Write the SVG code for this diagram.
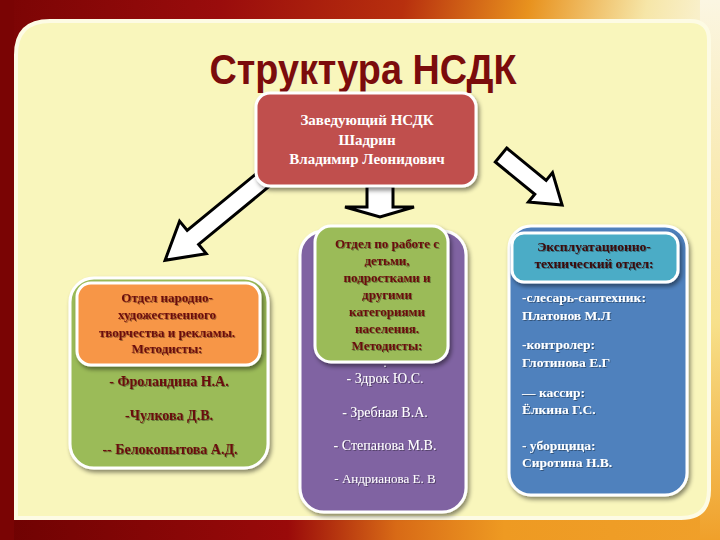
<svg xmlns="http://www.w3.org/2000/svg" width="720" height="540" viewBox="0 0 720 540">
<defs>
<linearGradient id="bgTop" x1="0" y1="0" x2="1" y2="0.15">
<stop offset="0" stop-color="#7a0404"/>
<stop offset="0.3" stop-color="#9a0c0c"/>
<stop offset="0.55" stop-color="#b8300e"/>
<stop offset="0.72" stop-color="#e8921e"/>
<stop offset="0.88" stop-color="#f6e6a8"/>
<stop offset="1" stop-color="#fbf6e0"/>
</linearGradient>
<linearGradient id="bgBot" x1="0" y1="0" x2="1" y2="0">
<stop offset="0" stop-color="#6e0202"/>
<stop offset="0.4" stop-color="#9a0a0a"/>
<stop offset="0.55" stop-color="#d86a16"/>
<stop offset="0.7" stop-color="#ee9a22"/>
<stop offset="1" stop-color="#f0a02a"/>
</linearGradient>
<linearGradient id="bgRight" x1="0" y1="0" x2="0" y2="1">
<stop offset="0" stop-color="#fbf6e2"/>
<stop offset="0.6" stop-color="#f7e08a"/>
<stop offset="1" stop-color="#f0a02a"/>
</linearGradient>
<filter id="sh" x="-10%" y="-10%" width="125%" height="125%">
<feDropShadow dx="2" dy="3" stdDeviation="2" flood-color="#000" flood-opacity="0.45"/>
</filter>
<filter id="tsh" x="-5%" y="-20%" width="110%" height="150%">
<feDropShadow dx="1" dy="1" stdDeviation="0.6" flood-color="#000" flood-opacity="0.35"/>
</filter>
</defs>
<style>
.box{stroke:#ffffff;stroke-width:3;filter:url(#sh)}
.sf{font-family:"Liberation Serif","Times New Roman",serif}
.b{font-weight:bold}
.c{text-anchor:middle}
.wht{fill:#ffffff}
.mar{fill:#6a0c0c}
.arr{fill:#ffffff;stroke:#000000;stroke-width:3;stroke-linejoin:miter}
</style>
<rect x="0" y="0" width="720" height="540" fill="url(#bgTop)"/>
<rect x="0" y="470" width="720" height="70" fill="url(#bgBot)"/>
<rect x="0" y="0" width="14" height="540" fill="#7a0404"/>
<rect x="700" y="0" width="20" height="540" fill="url(#bgRight)"/>
<path d="M50,21 L690,21 Q709,21 709,40 L709,490 Q709,518 681,518 L16,518 L16,55 Q16,21 50,21 Z" fill="#f9f6bc" stroke="#fdfbe4" stroke-width="4"/>
<text x="363" y="84" font-family="'Liberation Sans',Arial,sans-serif" font-weight="bold" font-size="42" fill="#7b0c0c" text-anchor="middle" textLength="307" lengthAdjust="spacingAndGlyphs">Структура НСДК</text>
<g id="connectors">
<polygon class="arr" transform="translate(264,179) rotate(140.6)" points="0,-9 92,-9 92,-21 128,0 92,21 92,9 0,9"/>
<polygon class="arr" transform="translate(501,155) rotate(39.3)" points="0,-9 51,-9 51,-19 79,0 51,19 51,9 0,9"/>
<polygon class="arr" points="367,186 393,186 393,207 414,207 380,217 345,207 367,207"/>
</g>
<g id="top">
<rect class="box" x="256" y="93" width="220" height="93" rx="14" fill="#c0504d"/>
<g class="sf b c wht" font-size="15">
<text x="367" y="125">Заведующий НСДК</text>
<text x="367" y="145">Шадрин</text>
<text x="367" y="164">Владимир Леонидович</text>
</g>
</g>
<g id="left">
<rect class="box" x="70" y="278" width="198" height="190" rx="24" fill="#9bbb59"/>
<rect class="box" x="77" y="283" width="183" height="82" rx="14" fill="#f79646"/>
<g class="sf b c mar" font-size="13" filter="url(#tsh)">
<text x="167" y="302">Отдел народно-</text>
<text x="167" y="319">художественного</text>
<text x="167" y="337">творчества и рекламы.</text>
<text x="167" y="353">Методисты:</text>
</g>
<g class="sf b c mar" font-size="14" filter="url(#tsh)">
<text x="169" y="386">- Фроландина Н.А.</text>
<text x="169" y="420">-Чулкова Д.В.</text>
<text x="170" y="454">-- Белокопытова А.Д.</text>
</g>
</g>
<g id="middle">
<rect class="box" x="300" y="231" width="166" height="281" rx="24" fill="#8064a2"/>
<rect class="box" x="315" y="226" width="133" height="136" rx="16" fill="#9bbb59"/>
<g class="sf b c mar" font-size="13" filter="url(#tsh)">
<text x="387" y="248">Отдел по работе с</text>
<text x="387" y="265">детьми,</text>
<text x="387" y="282">подростками и</text>
<text x="387" y="299">другими</text>
<text x="387" y="316">категориями</text>
<text x="387" y="333">населения.</text>
<text x="387" y="350">Методисты:</text>
</g>
<g class="sf c wht" font-size="14" filter="url(#tsh)">
<text x="385" y="367" font-size="12">.</text>
<text x="385" y="383">- Здрок Ю.С.</text>
<text x="385" y="417">- Зребная В.А.</text>
<text x="385" y="450">- Степанова М.В.</text>
<text x="385" y="483" font-size="13">- Андрианова Е. В</text>
</g>
</g>
<g id="right">
<rect class="box" x="509" y="226" width="178" height="269" rx="22" fill="#4f81bd"/>
<rect class="box" x="512" y="233" width="166" height="49" rx="12" fill="#4bacc6"/>
<g class="sf b c" font-size="13.5" fill="#3a0808" filter="url(#tsh)">
<text x="594" y="251">Эксплуатационно-</text>
<text x="594" y="268">технический отдел:</text>
</g>
<g class="sf b wht" font-size="13.5" filter="url(#tsh)">
<text x="522" y="302">-слесарь-сантехник:</text>
<text x="522" y="320">Платонов М.Л</text>
<text x="522" y="349">-контролер:</text>
<text x="522" y="367">Глотинова Е.Г</text>
<text x="522" y="397">— кассир:</text>
<text x="522" y="414">Ёлкина Г.С.</text>
<text x="522" y="450">- уборщица:</text>
<text x="522" y="467">Сиротина Н.В.</text>
</g>
</g>
</svg>
